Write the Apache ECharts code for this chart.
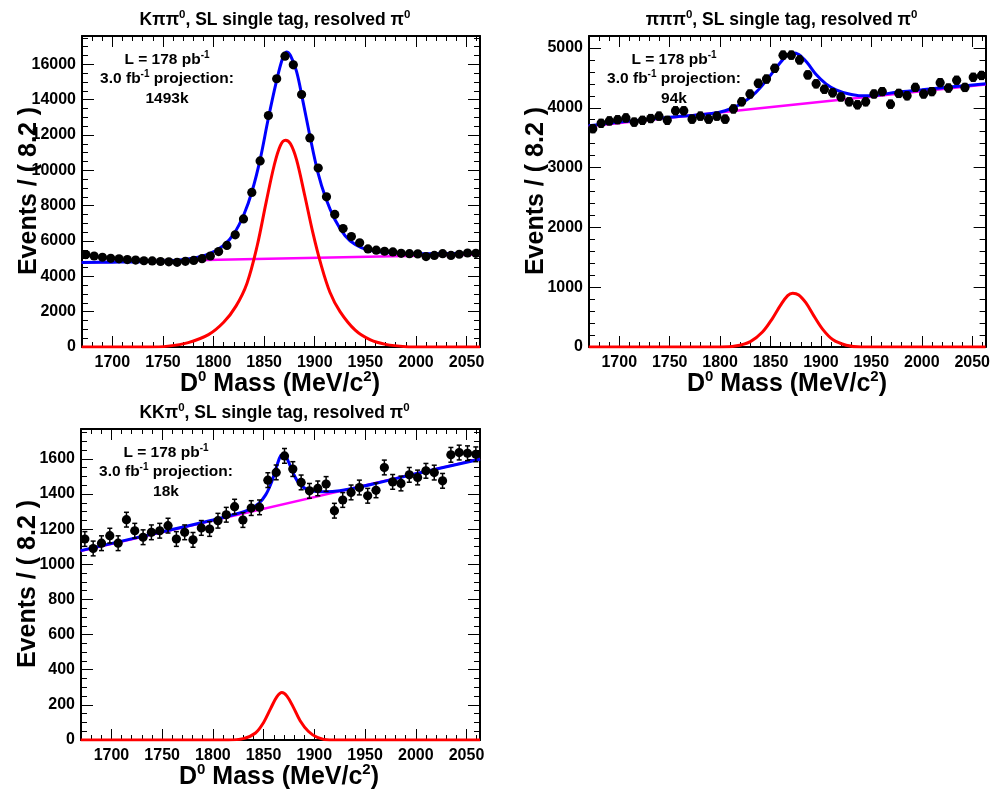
<!DOCTYPE html>
<html>
<head>
<meta charset="utf-8">
<script src="https://cdn.jsdelivr.net/npm/echarts@6/dist/echarts.min.js"></script>
<style>
  html, body { margin: 0; padding: 0; background: #fff; }
  #main { width: 993px; height: 791px; }
</style>
</head>
<body>
<div id="main"></div>
<script>
// bin centres (8.2 MeV bins)
const massBins = [1673.8, 1682.0, 1690.2, 1698.4, 1706.6, 1714.8, 1723.0, 1731.2, 1739.4, 1747.6,
  1755.8, 1764.0, 1772.2, 1780.4, 1788.6, 1796.8, 1805.0, 1813.2, 1821.4, 1829.6,
  1837.8, 1846.0, 1854.2, 1862.4, 1870.6, 1878.8, 1887.0, 1895.2, 1903.4, 1911.6,
  1919.8, 1928.0, 1936.2, 1944.4, 1952.6, 1960.8, 1969.0, 1977.2, 1985.4, 1993.6,
  2001.8, 2010.0, 2018.2, 2026.4, 2034.6, 2042.8, 2051.0, 2059.2];
const xTicks = [1700, 1750, 1800, 1850, 1900, 1950, 2000, 2050];

// K pi pi0
const kpipiData = [5230, 5150, 5080, 5020, 4990, 4950, 4920, 4880, 4870, 4840,
  4820, 4790, 4850, 4900, 5000, 5150, 5400, 5750, 6350, 7250,
  8750, 10530, 13100, 15180, 16460, 15970, 14290, 11830, 10130, 8500,
  7500, 6700, 6250, 5900, 5550, 5480, 5420, 5380, 5300, 5280,
  5270, 5120, 5180, 5280, 5180, 5250, 5320, 5300];
const kpipiErr = 75;
const kpipiTotal = [[1669.7, 4780], [1700, 4800], [1730, 4830], [1760, 4900], [1780, 5020], [1795, 5250],
  [1810, 5750], [1820, 6400], [1830, 7500], [1838, 8800], [1846, 10600], [1854, 12900], [1862, 15000],
  [1868, 16300], [1872, 16700], [1876, 16500], [1882, 15600], [1888, 14000], [1895, 12000], [1903, 9900],
  [1911, 8400], [1920, 7200], [1930, 6300], [1940, 5800], [1952, 5500], [1965, 5380], [1985, 5300],
  [2010, 5280], [2063.3, 5300]];
const kpipiSignal = [[1669.7, 0], [1735, 0], [1755, 50], [1775, 250], [1795, 700], [1810, 1400], [1822, 2300],
  [1833, 3600], [1843, 5700], [1852, 8200], [1860, 10300], [1866, 11400], [1871, 11700], [1876, 11500],
  [1882, 10600], [1890, 8600], [1898, 6500], [1906, 4700], [1915, 3100], [1925, 2000], [1940, 950],
  [1955, 400], [1970, 150], [1990, 20], [2005, 0], [2063.3, 0]];
const kpipiBkg = [[1669.7, 4780], [2063.3, 5230]];

// pi pi pi0
const pipipiData = [3650, 3740, 3780, 3800, 3830, 3760, 3790, 3820, 3860, 3790,
  3950, 3950, 3810, 3860, 3810, 3860, 3810, 3980, 4100, 4230,
  4410, 4480, 4660, 4880, 4880, 4800, 4550, 4400, 4310, 4250,
  4180, 4100, 4050, 4100, 4230, 4270, 4060, 4240, 4200, 4340,
  4230, 4270, 4420, 4330, 4460, 4340, 4510, 4540];
const pipipiErr = 65;
const pipipiTotal = [[1669.7, 3700], [1700, 3760], [1750, 3840], [1790, 3900], [1805, 3950], [1820, 4060],
  [1835, 4250], [1848, 4500], [1858, 4720], [1866, 4870], [1872, 4920], [1878, 4890], [1886, 4760],
  [1895, 4560], [1905, 4400], [1915, 4300], [1928, 4230], [1940, 4200], [1955, 4210], [1975, 4260],
  [2000, 4300], [2030, 4350], [2063.3, 4400]];
const pipipiSignal = [[1669.7, 0], [1800, 0], [1815, 15], [1830, 90], [1842, 250], [1852, 480], [1860, 700],
  [1867, 860], [1872, 900], [1878, 870], [1885, 740], [1893, 520], [1902, 290], [1912, 120], [1925, 30],
  [1940, 0], [2063.3, 0]];
const pipipiBkg = [[1669.7, 3690], [2063.3, 4390]];

// K K pi0
const kkpiData = [1144, 1090, 1120, 1163, 1120, 1254, 1191, 1154, 1182, 1191,
  1220, 1144, 1182, 1139, 1207, 1201, 1248, 1282, 1328, 1252,
  1320, 1324, 1479, 1523, 1617, 1542, 1466, 1418, 1432, 1457,
  1305, 1366, 1409, 1437, 1390, 1421, 1551, 1469, 1460, 1509,
  1494, 1532, 1522, 1475, 1623, 1636, 1632, 1626];
const kkpiErr = 42;
const kkpiTotal = [[1669.7, 1078], [1750, 1185], [1800, 1252], [1820, 1282], [1835, 1310], [1845, 1345],
  [1852, 1395], [1858, 1470], [1863, 1560], [1867, 1620], [1870, 1625], [1874, 1590], [1879, 1520],
  [1885, 1460], [1892, 1428], [1900, 1416], [1912, 1413], [1925, 1418], [1935, 1428], [1960, 1460],
  [2000, 1515], [2063.3, 1598]];
const kkpiSignal = [[1669.7, 0], [1815, 0], [1830, 8], [1842, 40], [1850, 100], [1857, 180], [1863, 245],
  [1868, 270], [1873, 250], [1879, 190], [1886, 110], [1894, 50], [1903, 15], [1915, 0], [2063.3, 0]];
const kkpiBkg = [[1669.7, 1076], [2063.3, 1600]];

const FONT = 'Liberation Sans, Arial, sans-serif';
const X_MIN = 1670, X_MAX = 2063.3;

const panels = [
  { grid: { left: 82, top: 36, width: 398, height: 311 }, ymax: 17600, major: 2000, minor: 500,
    data: kpipiData, err: kpipiErr, total: kpipiTotal, signal: kpipiSignal, bkg: kpipiBkg,
    title: ['Kππ', 'SL single tag, resolved π'], yield: '1493k' },
  { grid: { left: 589, top: 36, width: 397, height: 311 }, ymax: 5200, major: 1000, minor: 200,
    data: pipipiData, err: pipipiErr, total: pipipiTotal, signal: pipipiSignal, bkg: pipipiBkg,
    title: ['πππ', 'SL single tag, resolved π'], yield: '94k' },
  { grid: { left: 81, top: 429, width: 399, height: 311 }, ymax: 1770, major: 200, minor: 50,
    data: kkpiData, err: kkpiErr, total: kkpiTotal, signal: kkpiSignal, bkg: kkpiBkg,
    title: ['KKπ', 'SL single tag, resolved π'], yield: '18k' }
];

const blackLine = { show: true, onZero: false, lineStyle: { color: '#000', width: 2 } };
const labelStyle = { color: '#000', fontWeight: 'bold', fontSize: 16, fontFamily: FONT };

const grids = [], xAxes = [], yAxes = [], series = [], graphics = [];

panels.forEach((p, gi) => {
  grids.push(p.grid);
  const xBase = xAxes.length, yBase = yAxes.length;
  ['bottom', 'top'].forEach(pos => {
    xAxes.push({
      type: 'value', gridIndex: gi, position: pos, min: X_MIN, max: X_MAX,
      axisLine: blackLine, splitLine: { show: false },
      axisTick: { inside: true, length: 11, customValues: xTicks, lineStyle: { color: '#000', width: 1 } },
      axisLabel: pos === 'bottom'
        ? Object.assign({ customValues: xTicks, margin: 8, formatter: v => String(v) }, labelStyle)
        : { show: false }
    });
    xAxes.push({
      type: 'value', gridIndex: gi, position: pos, min: X_MIN, max: X_MAX, interval: 10,
      axisLine: { show: false, onZero: false }, splitLine: { show: false },
      axisTick: { inside: true, length: 5, lineStyle: { color: '#000', width: 1 } },
      axisLabel: { show: false }
    });
  });
  ['left', 'right'].forEach(pos => {
    yAxes.push({
      type: 'value', gridIndex: gi, position: pos, min: 0, max: p.ymax, interval: p.major,
      axisLine: blackLine, splitLine: { show: false },
      axisTick: { inside: true, length: 12, lineStyle: { color: '#000', width: 1 } },
      axisLabel: pos === 'left'
        ? Object.assign({ margin: 6, showMaxLabel: false, formatter: v => String(v) }, labelStyle)
        : { show: false }
    });
    yAxes.push({
      type: 'value', gridIndex: gi, position: pos, min: 0, max: p.ymax, interval: p.minor,
      axisLine: { show: false, onZero: false }, splitLine: { show: false },
      axisTick: { inside: true, length: 6, lineStyle: { color: '#000', width: 1 } },
      axisLabel: { show: false }
    });
  });

  const lineSeries = (data, color, width, z) => ({
    type: 'line', xAxisIndex: xBase, yAxisIndex: yBase, data: data, smooth: 0.35,
    showSymbol: false, symbol: 'none', silent: true, z: z,
    lineStyle: { color: color, width: width }
  });
  series.push(lineSeries(p.bkg, '#ff00ff', 2.5, 2));
  series.push(lineSeries(p.signal, '#ff0000', 3, 3));
  series.push(lineSeries(p.total, '#0000ff', 3, 4));
  series.push({
    type: 'custom', xAxisIndex: xBase, yAxisIndex: yBase, z: 5, silent: true,
    data: massBins.map((m, i) => [m, p.data[i], p.err]),
    renderItem: (params, api) => {
      const x = api.value(0), y = api.value(1), e = api.value(2);
      const c = api.coord([x, y]);
      const l = api.coord([x - 4.1, y]), r = api.coord([x + 4.1, y]);
      const t = api.coord([x, y + e]), b = api.coord([x, y - e]);
      const st = { stroke: '#000', lineWidth: 1.5 };
      return {
        type: 'group', children: [
          { type: 'line', shape: { x1: l[0], y1: c[1], x2: r[0], y2: c[1] }, style: st },
          { type: 'line', shape: { x1: c[0], y1: t[1], x2: c[0], y2: b[1] }, style: st },
          { type: 'line', shape: { x1: c[0] - 2.5, y1: t[1], x2: c[0] + 2.5, y2: t[1] }, style: st },
          { type: 'line', shape: { x1: c[0] - 2.5, y1: b[1], x2: c[0] + 2.5, y2: b[1] }, style: st },
          { type: 'circle', shape: { cx: c[0], cy: c[1], r: 4.6 }, style: { fill: '#000' } }
        ]
      };
    }
  });

  const g = p.grid;
  const cx = g.left + g.width / 2;
  // panel title
  graphics.push({
    type: 'text', position: [cx - 6, g.top - 16],
    style: {
      text: '{t|' + p.title[0] + '}{s|0}{t|, ' + p.title[1] + '}{s|0}',
      align: 'center', verticalAlign: 'middle', fill: '#000',
      rich: {
        t: { fontSize: 17.5, fontWeight: 'bold', fontFamily: FONT, lineHeight: 22, fill: '#000' },
        s: { fontSize: 11.5, fontWeight: 'bold', fontFamily: FONT, lineHeight: 12, verticalAlign: 'top', fill: '#000' }
      }
    }
  });
  // luminosity / yield note
  const ax = g.left + 85;
  const richA = {
    a: { fontSize: 15.5, fontWeight: 'bold', fontFamily: FONT, lineHeight: 19, fill: '#000' },
    s: { fontSize: 10, fontWeight: 'bold', fontFamily: FONT, lineHeight: 10, verticalAlign: 'top', fill: '#000' }
  };
  [['{a|L = 178 pb}{s|-1}', 24], ['{a|3.0 fb}{s|-1}{a| projection:}', 43], ['{a|' + p.yield + '}', 63]]
    .forEach(([txt, dy]) => graphics.push({
      type: 'text', position: [ax, g.top + dy],
      style: { text: txt, align: 'center', verticalAlign: 'middle', rich: richA }
    }));
  // axis titles
  graphics.push({
    type: 'text', position: [g.left + 198, g.top + g.height + 37],
    style: {
      text: '{a|D}{s|0}{a| Mass (MeV/c}{s|2}{a|)}', align: 'center', verticalAlign: 'middle',
      rich: {
        a: { fontSize: 25, fontWeight: 'bold', fontFamily: FONT, lineHeight: 30, fill: '#000' },
        s: { fontSize: 15, fontWeight: 'bold', fontFamily: FONT, lineHeight: 16, verticalAlign: 'top', fill: '#000' }
      }
    }
  });
  graphics.push({
    type: 'text', position: [g.left - 53, g.top + 155], rotation: Math.PI / 2,
    style: {
      text: 'Events / ( 8.2 )', align: 'center', verticalAlign: 'middle',
      fontSize: 25, fontWeight: 'bold', fontFamily: FONT, fill: '#000'
    }
  });
});

const chart = echarts.init(document.getElementById('main'), null, { renderer: 'canvas' });
chart.setOption({
  backgroundColor: '#fff',
  animation: false,
  grid: grids,
  xAxis: xAxes,
  yAxis: yAxes,
  series: series,
  graphic: graphics
});
</script>
</body>
</html>
